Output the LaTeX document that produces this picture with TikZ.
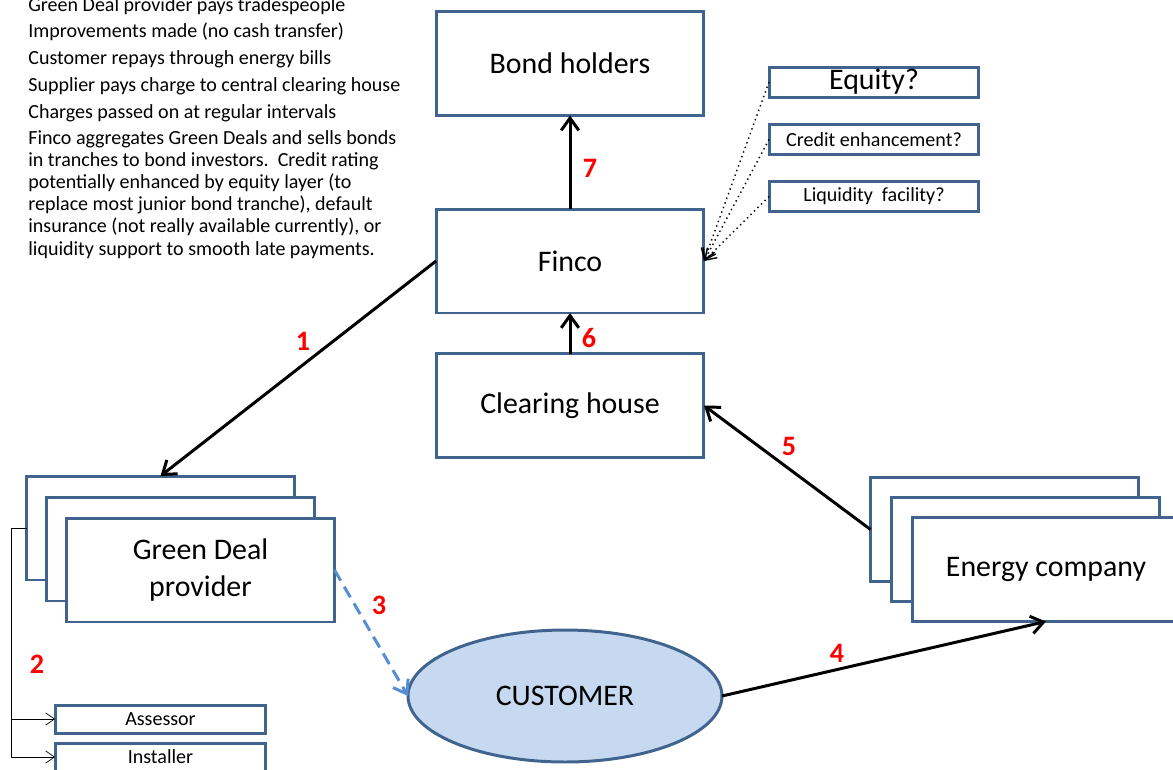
\documentclass[tikz,border=0pt]{standalone}
\usepackage{fontspec}
\setmainfont{Carlito}
\usetikzlibrary{arrows.meta,shapes.geometric}

\definecolor{boxblue}{RGB}{65,100,142}
\definecolor{custfill}{RGB}{198,217,241}
\definecolor{loanblue}{RGB}{85,142,213}

\tikzset{
  box/.style={draw=boxblue, line width=1.7pt, fill=white, inner sep=0pt, outer sep=0pt,
    align=center, font=\fontsize{17}{21}\selectfont},
  tag/.style={box, font=\fontsize{11.4}{13}\selectfont},
  num/.style={text=red, inner sep=0pt, font=\bfseries\fontsize{16}{18}\selectfont},
  flow/.style={-{Straight Barb[length=7pt,width=10pt]}, line width=1.7pt},
  note/.style={anchor=base west, inner sep=0pt, font=\fontsize{11.4}{12.6}\selectfont},
}

\begin{document}
\begin{tikzpicture}[x=0.02cm, y=-0.02cm]
  \useasboundingbox (0,0) rectangle (1173,769);
  \clip (0,0) rectangle (1173,769);

  % Parameters
  \def\bw{5.36cm}   % main box width
  \def\bh{2.08cm}   % main box height
  \def\tw{4.2cm}    % side box width
  \def\th{0.59cm}   % side box height

  % Notes
  \foreach \t [count=\i from 0] in {Green Deal provider pays tradespeople,
      Improvements made (no cash transfer), Customer repays through energy bills,
      Supplier pays charge to central clearing house, Charges passed on at regular intervals} {
    \node[note] (note\i) at (28, 11+26.75*\i) {\t};
  }
  % (base of a multi-line node = its last line)
  \node[note, align=left] (note5) at (28,255) {Finco aggregates Green Deals and sells bonds\\
    in tranches to bond investors.\ \ Credit rating\\
    potentially enhanced by equity layer (to\\
    replace most junior bond tranche), default\\
    insurance (not really available currently), or\\
    liquidity support to smooth late payments.};

  % Centre column
  \node[box, minimum width=\bw, minimum height=\bh] (bond) at (570,63.5) {Bond holders};
  \node[box, minimum width=\bw, minimum height=\bh] (finco) at (570,261) {Finco};
  \node[box, minimum width=\bw, minimum height=\bh] (clear) at (570,405.5) {Clearing house};

  % Side options
  \node[box, minimum width=\tw, minimum height=0.6cm] (equity) at (874,82) {Equity?};
  \node[tag, minimum width=\tw, minimum height=\th] (credit) at (874,139.5) {Credit enhancement?};
  \node[tag, minimum width=\tw, minimum height=\th] (liquid) at (874,196.5) {Liquidity\ \ facility?};

  % Stacks
  \foreach \k in {0,1} {
    \node[box, minimum width=\bw, minimum height=\bh] (gd\k) at (160.5+20*\k, 528+21*\k) {};
    \node[box, minimum width=\bw, minimum height=\bh] (ec\k) at (1004.5+20.75*\k, 529.5+20*\k) {};
  }
  \node[box, minimum width=\bw, minimum height=\bh] (gd2) at (200.5,570) {Green Deal\\provider};
  \node[box, minimum width=\bw, minimum height=\bh] (ec2) at (1046,569.5) {Energy company};

  % Customer
  \node[box, ellipse, fill=custfill, minimum width=6.28cm, minimum height=2.64cm] (cust)
    at (565,696) {CUSTOMER};

  % Tradespeople
  \node[tag, minimum width=4.22cm, minimum height=0.56cm] (assessor) at (160.5,719) {Assessor};
  \node[tag, minimum width=4.22cm, minimum height=0.56cm] (installer) at (160.5,757) {Installer};

  % Flows
  \draw[flow] (finco.west) -- (gd0.north);
  \draw[flow, loanblue, dashed, dash pattern=on 7pt off 4pt] (gd2.east) -- (cust.west);
  \draw[flow] (cust.east) -- (ec2.south);
  \draw[flow] (ec0.west) -- (clear.east);
  \draw[flow] (clear.north) -- (finco.south);
  \draw[flow] (finco.north) -- (bond.south);
  \foreach \s in {equity,credit,liquid}
    \draw[dotted, thick, -{Straight Barb[length=6pt,width=8pt]}] (\s.west) -- (finco.east);

  \coordinate (tee) at (11,528);
  \draw[thin] (gd0.west) -- (tee);
  \draw[thin, -{Straight Barb[length=5pt,width=7pt]}] (tee) |- (assessor.west);
  \draw[thin, -{Straight Barb[length=5pt,width=7pt]}] (tee) |- (installer.west);

  % Step numbers
  \node[num] (n1) at (303,341) {1};
  \node[num] (n2) at (37,664) {2};
  \node[num] (n3) at (379,605) {3};
  \node[num] (n4) at (837,653) {4};
  \node[num] (n5) at (789,446) {5};
  \node[num] (n6) at (589,338) {6};
  \node[num] (n7) at (590,168) {7};
\end{tikzpicture}
\end{document}
